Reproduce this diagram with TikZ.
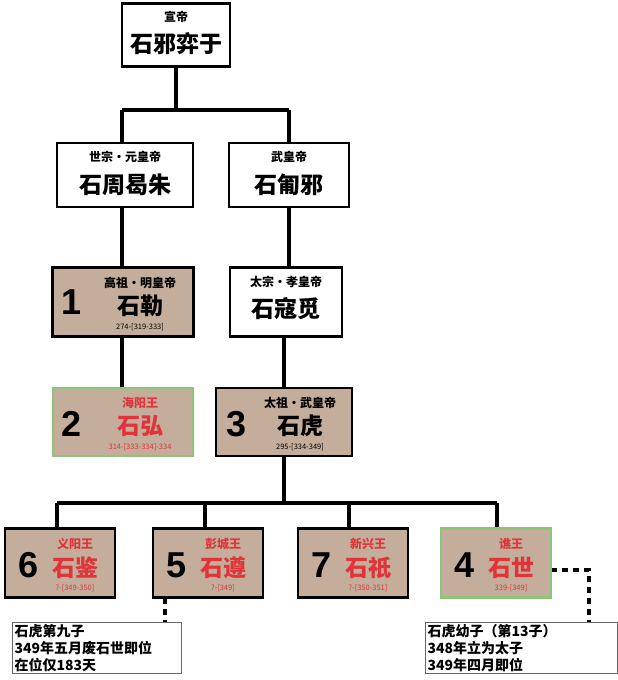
\documentclass[tikz,border=0pt]{standalone}
\usepackage{fontspec}
\setmainfont{Noto Sans CJK SC}
\newfontfamily\num{Liberation Sans}
\begin{document}
\begin{tikzpicture}[x=1pt,y=-1pt,
  bx/.style={draw=black,line width=2.5pt,fill=white,inner sep=0pt},
  tan/.style={bx,fill=tanc},
  grn/.style={draw=grnc,line width=2.5pt,fill=tanc,inner sep=0pt},
  ln/.style={line width=4pt},
  dl/.style={line width=4pt,dash pattern=on 6pt off 5pt},
  big/.style={font=\bfseries\fontsize{23}{23}\selectfont},
  sml/.style={font=\bfseries\fontsize{12}{12}\selectfont},
  yrs/.style={font=\fontsize{7.5}{7.5}\selectfont},
  nb/.style={font=\num\bfseries\fontsize{36}{36}\selectfont},
  note/.style={draw=black!60,line width=1pt,fill=white,anchor=north west,align=left,font=\bfseries\fontsize{14}{17}\selectfont,inner sep=2pt}]
\definecolor{tanc}{HTML}{C4AD9A}
\definecolor{grnc}{HTML}{8CC47A}
\definecolor{redc}{HTML}{E0343A}
\useasboundingbox (0,0) rectangle (618,680);
% connectors
\coordinate (j0) at (176,110);
\coordinate (jl) at (122,110);
\coordinate (jr) at (289,110);
\draw[ln] (176,35) -- (j0);
\draw[ln] (jl) -- (jr);
\draw[ln] (jl) -- (122,422);
\draw[ln] (jr) -- (289,300) -- (284,300) -- (284,503);
\draw[ln] (57,503) -- (497,503);
\foreach \x in {57,205,349,497} \draw[ln] (\x,503) -- (\x,540);
\draw[dl] (165,598) -- (165,622);
\draw[dl] (551,570) -- (589,570) -- (589,622);
% boxes
\node[bx,minimum width=108,minimum height=63] (t) at (176,35) {};
\node[sml] at (176,17) {宣帝};
\node[big] at (176,44) {石邪弈于};
\node[bx,minimum width=136,minimum height=64] (a) at (125,175) {};
\node[sml] at (125,157) {世宗·元皇帝};
\node[big] at (125,185) {石周曷朱};
\node[bx,minimum width=120,minimum height=64] (b) at (289,175) {};
\node[sml] at (289,157) {武皇帝};
\node[big] at (289,185) {石匍邪};
\node[tan,minimum width=141,minimum height=69] (c) at (123,302) {};
\node[nb] at (72,302) {1};
\node[sml] at (140,283) {高祖·明皇帝};
\node[big] at (140,306) {石勒};
\node[yrs] at (140,327) {274-[319-333]};
\node[bx,minimum width=112,minimum height=69] (d) at (286,302) {};
\node[sml] at (286,282) {太宗·孝皇帝};
\node[big] at (286,309) {石寇觅};
\node[grn,minimum width=140,minimum height=68] (e) at (123,422) {};
\node[nb] at (72,424) {2};
\node[sml,text=redc] at (140,403) {海阳王};
\node[big,text=redc] at (140,426) {石弘};
\node[yrs,text=redc] at (140,447) {314-[333-334]-334};
\node[tan,minimum width=136,minimum height=68] (f) at (284,422) {};
\node[nb] at (237,424) {3};
\node[sml] at (300,403) {太祖·武皇帝};
\node[big] at (300,426) {石虎};
\node[yrs] at (300,447) {295-[334-349]};
% bottom row
\foreach \cx/\n/\st/\nm/\yr/\nmb in {60/6/tan/义阳王/?-[349-350]/石鉴,208/5/tan/彭城王/?-[349]/石遵,353/7/tan/新兴王/?-[350-351]/石祇,496/4/grn/谯王/339-[349]/石世}{
  \node[\st,minimum width=110,minimum height=69] at (\cx,563) {};
  \node[nb] at (\cx-31,565) {\n};
  \node[sml,text=redc] at (\cx+15,544) {\nm};
  \node[big,text=redc] at (\cx+15,568) {\nmb};
  \node[yrs,text=redc] at (\cx+15,588) {\yr};
}
\node[note,text width=165] (n1) at (12,622) {石虎第九子\\349年五月废石世即位\\在位仅183天};
\node[note,text width=188] (n2) at (425,622) {石虎幼子（第13子）\\348年立为太子\\349年四月即位};
\end{tikzpicture}
\end{document}
